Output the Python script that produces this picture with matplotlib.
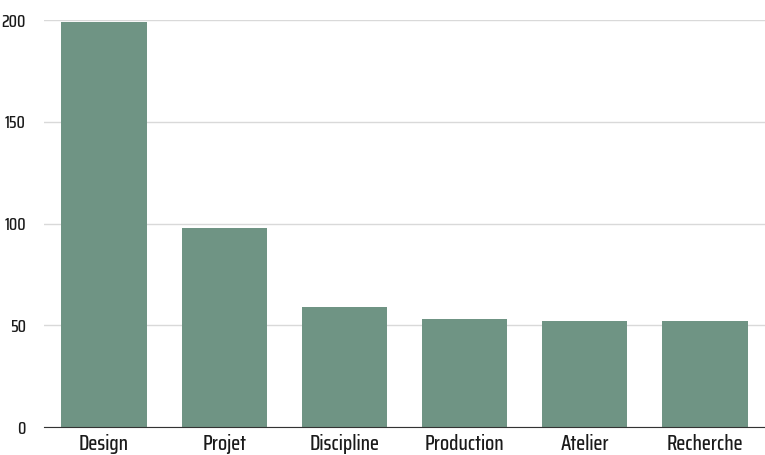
import matplotlib
matplotlib.use('Agg')
import matplotlib.pyplot as plt

categories = ['Design', 'Projet', 'Discipline', 'Production', 'Atelier', 'Recherche']
counts = [199, 98, 59, 53, 52, 52]
yticks = [0, 50, 100, 150, 200]

plt.rcParams['font.family'] = ['Saira Condensed', 'DejaVu Sans']
plt.rcParams['font.weight'] = 'medium'

fig = plt.figure(figsize=(7.65, 4.55), dpi=100)
ax = fig.add_axes([0.0575, 0.0615, 0.9425, 0.894])

x = range(len(categories))
ax.bar(x, counts, width=0.71, color='#6f9484', zorder=2)

ax.set_xlim(-0.5, len(categories) - 0.5)
ax.set_ylim(0, 200)
ax.set_yticks(yticks)
ax.set_xticks(list(x))
ax.set_xticklabels(categories)
ax.grid(axis='y', color='#d9d9d9', linewidth=1, zorder=0)

for side in ['top', 'right', 'left']:
    ax.spines[side].set_visible(False)
ax.spines['bottom'].set_color('#333333')
ax.spines['bottom'].set_zorder(3)
ax.tick_params(axis='both', length=0, colors='#1a1a1a')
ax.tick_params(axis='x', pad=5, labelsize=15)
ax.tick_params(axis='y', pad=13, labelsize=12.5)

fig.savefig('out.png', dpi=100)
